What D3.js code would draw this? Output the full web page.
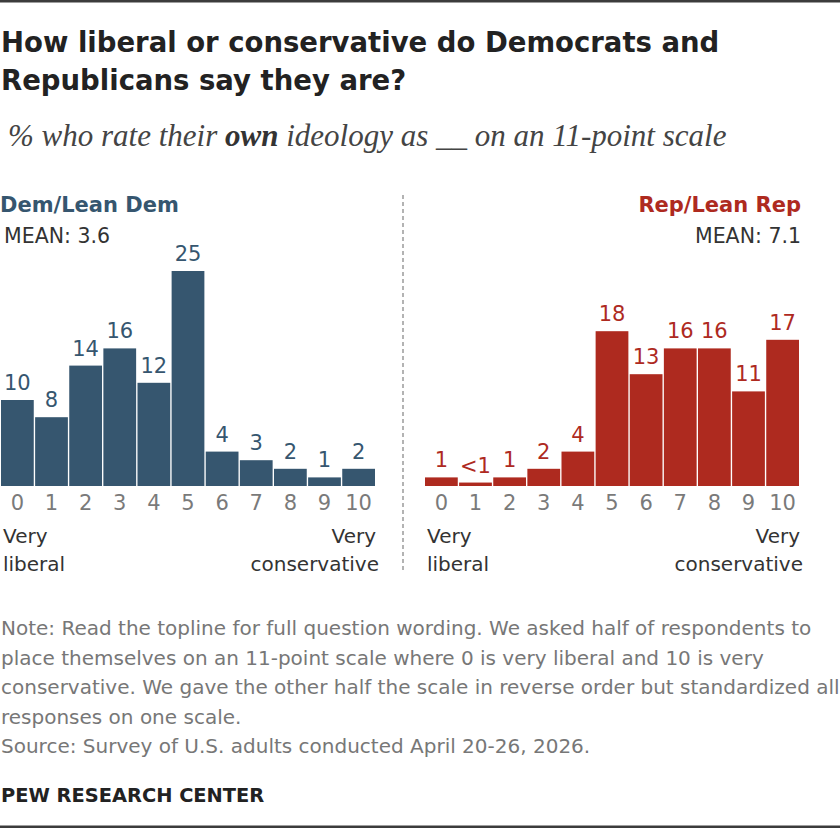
<!DOCTYPE html>
<html>
<head>
<meta charset="utf-8">
<script src="https://cdn.jsdelivr.net/npm/d3@7"></script>
<style>
  body { margin: 0; background: #fff; }
  svg { display: block; font-family: "DejaVu Sans", sans-serif; }
</style>
</head>
<body>
<svg id="chart" width="840" height="828"></svg>
<script>
// scale points 0..10 and the share at each point
const scalePoints = ["0", "1", "2", "3", "4", "5", "6", "7", "8", "9", "10"];
const demValues = [10, 8, 14, 16, 12, 25, 4, 3, 2, 1, 2];
const repValues = [1, 0.4, 1, 2, 4, 18, 13, 16, 16, 11, 17];

const demColor = "#36566f";
const repColor = "#ae2a1f";

const noteLines = [
    "Note: Read the topline for full question wording. We asked half of respondents to",
    "place themselves on an 11-point scale where 0 is very liberal and 10 is very",
    "conservative. We gave the other half the scale in reverse order but standardized all",
    "responses on one scale.",
    "Source: Survey of U.S. adults conducted April 20-26, 2026."
];

const svg = d3.select('#chart');
const baseY = 486;

// shared value scale so both panels use the same bar heights
const y = d3.scaleLinear().domain([0, 25]).range([baseY, 271]);

// frame lines
svg.append('rect').attr('x', 0).attr('y', 0).attr('width', 840).attr('height', 2.5).attr('fill', '#3c3c3c');
svg.append('rect').attr('x', 0).attr('y', 825.5).attr('width', 840).attr('height', 2.5).attr('fill', '#3c3c3c');

// title + subtitle
svg.append('text')
    .attr('x', 1).attr('y', 52)
    .attr('font-size', 27.5).attr('font-weight', 700).attr('fill', '#222')
    .text('How liberal or conservative do Democrats and');
svg.append('text')
    .attr('x', 1).attr('y', 90)
    .attr('font-size', 27.5).attr('font-weight', 700).attr('fill', '#222')
    .text('Republicans say they are?');

const sub = svg.append('text')
    .attr('x', 8).attr('y', 146)
    .attr('font-family', '"Liberation Serif", serif')
    .attr('font-style', 'italic').attr('font-size', 31).attr('fill', '#444');
sub.append('tspan').text('% who rate their ');
sub.append('tspan').attr('font-weight', 700).attr('fill', '#333').text('own');
sub.append('tspan').text(' ideology as __ on an 11-point scale');

// dashed divider
svg.append('line')
    .attr('x1', 403).attr('x2', 403).attr('y1', 195).attr('y2', 572)
    .attr('stroke', '#9a9a9a').attr('stroke-width', 1.5)
    .attr('stroke-dasharray', '4,3');

function drawPanel(values, color, left, right, name, mean, alignRight) {
    const g = svg.append('g');
    const x = d3.scaleBand().domain(scalePoints).range([left, right]).paddingInner(0.04);

    const hx = alignRight ? right + 2 : left - 1;
    const anchor = alignRight ? 'end' : 'start';
    g.append('text')
        .attr('x', hx).attr('y', 212).attr('text-anchor', anchor)
        .attr('font-size', 21).attr('font-weight', 700).attr('fill', color)
        .text(name);
    g.append('text')
        .attr('x', alignRight ? hx : hx + 4).attr('y', 243).attr('text-anchor', anchor)
        .attr('font-size', 20.5).attr('fill', '#333')
        .text('MEAN: ' + mean);

    g.selectAll('rect.bar').data(values)
        .join('rect')
        .attr('class', 'bar')
        .attr('x', (d, i) => x(scalePoints[i]))
        .attr('width', x.bandwidth())
        .attr('y', d => y(d))
        .attr('height', d => baseY - y(d))
        .attr('fill', color);

    g.selectAll('text.val').data(values)
        .join('text')
        .attr('class', 'val')
        .attr('x', (d, i) => x(scalePoints[i]) + x.bandwidth() / 2)
        .attr('y', d => y(d) - 10)
        .attr('text-anchor', 'middle')
        .attr('font-size', 21).attr('fill', color)
        .text(d => d < 1 ? '<1' : d3.format('d')(d));

    const axis = d3.axisBottom(x).tickSize(0).tickPadding(0);
    const ax = g.append('g').attr('transform', 'translate(0,' + baseY + ')').call(axis);
    ax.select('.domain').remove();
    ax.selectAll('text')
        .attr('dy', null).attr('y', 24)
        .attr('font-family', '"DejaVu Sans", sans-serif')
        .attr('font-size', 21).attr('fill', '#7a7a7a');

    g.append('text').attr('x', left + 2).attr('y', 543)
        .attr('font-size', 20).attr('fill', '#333').text('Very');
    g.append('text').attr('x', left + 2).attr('y', 571)
        .attr('font-size', 20).attr('fill', '#333').text('liberal');
    g.append('text').attr('x', right + 1).attr('y', 543).attr('text-anchor', 'end')
        .attr('font-size', 20).attr('fill', '#333').text('Very');
    g.append('text').attr('x', right + 4).attr('y', 571).attr('text-anchor', 'end')
        .attr('font-size', 20).attr('fill', '#333').text('conservative');
}

drawPanel(demValues, demColor, 1, 375, 'Dem/Lean Dem', '3.6', false);
drawPanel(repValues, repColor, 425, 799, 'Rep/Lean Rep', '7.1', true);

// notes
svg.append('g').selectAll('text').data(noteLines)
    .join('text')
    .attr('x', 1)
    .attr('y', (d, i) => 635 + i * 29.5)
    .attr('font-size', 20).attr('fill', '#777')
    .text(d => d);

svg.append('text')
    .attr('x', 1).attr('y', 802)
    .attr('font-size', 19.4).attr('font-weight', 700).attr('fill', '#222')
    .text('PEW RESEARCH CENTER');
</script>
</body>
</html>
